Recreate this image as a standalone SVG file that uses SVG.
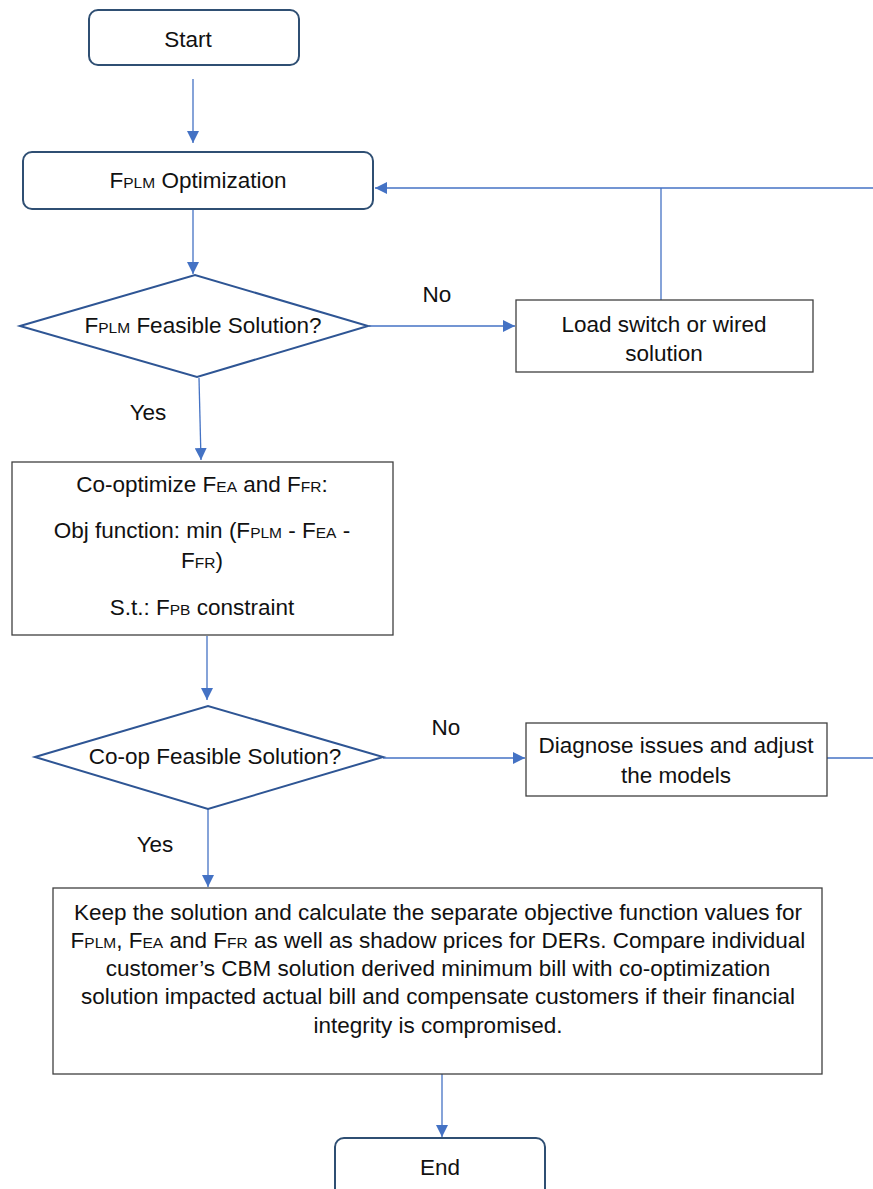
<svg xmlns="http://www.w3.org/2000/svg" width="873" height="1189" viewBox="0 0 873 1189">
<style>
text{font-family:'Liberation Sans',Arial,sans-serif;font-size:22.5px;fill:#111;text-anchor:middle}
.s{font-size:15.5px}
.term{fill:#fff;stroke:#2F4F73;stroke-width:2}
.dec{fill:#fff;stroke:#2E5594;stroke-width:2}
.proc{fill:#fff;stroke:#404040;stroke-width:1.3}
.c{fill:none;stroke:#4472C4;stroke-width:1.3}
</style>
<defs>
<marker id="ah" markerUnits="userSpaceOnUse" markerWidth="12" markerHeight="12" viewBox="0 0 12 12" refX="12" refY="6" orient="auto">
<path d="M0,0 L12,6 L0,12 Z" fill="#4472C4"/>
</marker>
</defs>
<rect width="873" height="1189" fill="#fff"/>
<g id="connectors">
<line class="c" x1="193" y1="79" x2="193" y2="143" marker-end="url(#ah)"/>
<line class="c" x1="193" y1="210" x2="193" y2="274" marker-end="url(#ah)"/>
<line class="c" x1="369" y1="326" x2="515" y2="326" marker-end="url(#ah)"/>
<polyline class="c" points="873,188 375,188" marker-end="url(#ah)"/>
<line class="c" x1="661" y1="300" x2="661" y2="188"/>
<line class="c" x1="199" y1="378" x2="201" y2="460" marker-end="url(#ah)"/>
<line class="c" x1="207" y1="636" x2="207" y2="700" marker-end="url(#ah)"/>
<line class="c" x1="383" y1="758" x2="525" y2="758" marker-end="url(#ah)"/>
<line class="c" x1="827" y1="758" x2="873" y2="758"/>
<line class="c" x1="208" y1="809" x2="208" y2="887" marker-end="url(#ah)"/>
<line class="c" x1="442" y1="1074" x2="442" y2="1137" marker-end="url(#ah)"/>
<text x="437" y="302">No</text>
<text x="446" y="735">No</text>
<text x="148" y="420">Yes</text>
<text x="155" y="852">Yes</text>
</g>
<g id="start">
<rect class="term" x="89" y="10" width="210" height="55" rx="9"/>
<text x="188" y="47">Start</text>
</g>
<g id="fplm-opt">
<rect class="term" x="23" y="152" width="350" height="57" rx="9"/>
<text x="198" y="188">F<tspan class="s">PLM</tspan> Optimization</text>
</g>
<g id="fplm-feasible">
<polygon class="dec" points="20,326 195,275 368,326 197,377"/>
<text x="203" y="333">F<tspan class="s">PLM</tspan> Feasible Solution?</text>
</g>
<g id="load-switch">
<rect class="proc" x="516" y="300" width="297" height="72"/>
<text x="664" y="332">Load switch or wired</text>
<text x="664" y="361">solution</text>
</g>
<g id="co-optimize">
<rect class="proc" x="12" y="462" width="381" height="173"/>
<text x="202" y="492">Co-optimize F<tspan class="s">EA</tspan> and F<tspan class="s">FR</tspan>:</text>
<text x="202" y="538">Obj function: min (F<tspan class="s">PLM</tspan> - F<tspan class="s">EA</tspan> -</text>
<text x="202" y="568">F<tspan class="s">FR</tspan>)</text>
<text x="202" y="615">S.t.: F<tspan class="s">PB</tspan> constraint</text>
</g>
<g id="coop-feasible">
<polygon class="dec" points="35,757 208,706 383,757 208,809"/>
<text x="215" y="764">Co-op Feasible Solution?</text>
</g>
<g id="diagnose">
<rect class="proc" x="526" y="723" width="301" height="73"/>
<text x="676" y="753">Diagnose issues and adjust</text>
<text x="676" y="783">the models</text>
</g>
<g id="keep-solution">
<rect class="proc" x="53" y="888" width="769" height="186"/>
<text x="438" y="920">Keep the solution and calculate the separate objective function values for</text>
<text x="438" y="948">F<tspan class="s">PLM</tspan>, F<tspan class="s">EA</tspan> and F<tspan class="s">FR</tspan> as well as shadow prices for DERs. Compare individual</text>
<text x="438" y="976">customer’s CBM solution derived minimum bill with co-optimization</text>
<text x="438" y="1004">solution impacted actual bill and compensate customers if their financial</text>
<text x="438" y="1033">integrity is compromised.</text>
</g>
<g id="end">
<rect class="term" x="335" y="1138" width="210" height="70" rx="9"/>
<text x="440" y="1175">End</text>
</g>
</svg>
